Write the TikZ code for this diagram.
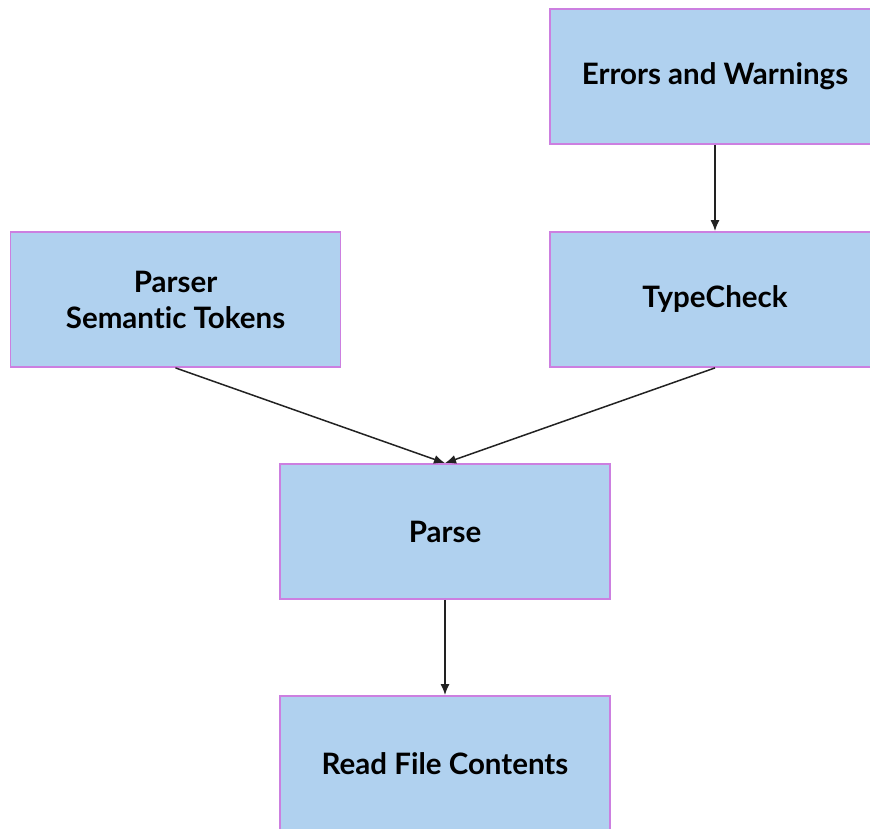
\documentclass[tikz,border=0pt]{standalone}
\usepackage{fontspec}
\setmainfont[Ligatures={NoCommon}]{Lato}
\usetikzlibrary{arrows.meta}
\definecolor{boxfill}{HTML}{B0D1EF}
\definecolor{boxline}{HTML}{CC7FE0}
\definecolor{arrowc}{HTML}{222222}
\begin{document}
\begin{tikzpicture}[x=1pt,y=-1pt,
  stepbox/.style={draw=boxline,fill=boxfill,line width=1.8pt,rectangle,
    minimum width=330pt,minimum height=135pt,inner sep=0pt,align=center,
    font=\fontsize{29.5}{36}\selectfont\bfseries,text=black},
  conn/.style={draw=arrowc,line width=1.5pt,-{Latex[length=11pt,width=9pt]}}]
\useasboundingbox (0,0) rectangle (870,829);
\clip (0,0) rectangle (870,829);
\node[stepbox] (err) at (715,76.5) {Errors and Warnings};
\node[stepbox] (tc) at (715,299.5) {TypeCheck};
\node[stepbox] (pst) at (175.5,299.5) {Parser\\Semantic Tokens};
\node[stepbox] (parse) at (445,531.5) {Parse};
\node[stepbox] (read) at (445,763.5) {Read File Contents};
\draw[conn] (err.south) -- (tc.north);
\draw[conn] (pst.south) -- (parse.north);
\draw[conn] (tc.south) -- (parse.north);
\draw[conn] (parse.south) -- (read.north);
\end{tikzpicture}
\end{document}
